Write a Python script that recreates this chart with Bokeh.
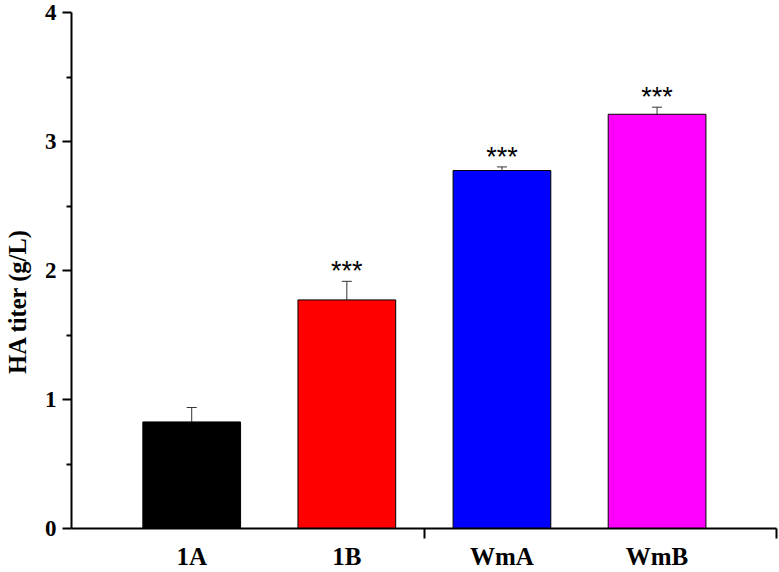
from bokeh.plotting import figure
from bokeh.models import ColumnDataSource, FixedTicker, Range1d, Whisker
from bokeh.core.properties import value
from bokeh.embed import file_html
from bokeh.resources import INLINE

categories = ["1A", "1B", "WmA", "WmB"]
positions = [1, 2, 3, 4]
titer = [0.826, 1.772, 2.775, 3.211]
errors = [0.112, 0.144, 0.028, 0.055]
stars = ["", "***", "***", "***"]
colors = ["#000000", "#FF0000", "#0000FF", "#FF00FF"]
y_ticks = [0, 1, 2, 3, 4]
y_minor = [0.5, 1.5, 2.5, 3.5]
x_minor = [2.5, 4.77]
y_title = "HA titer (g/L)"

src = ColumnDataSource(dict(
    x=positions, top=titer, color=colors,
    upper=[t + e for t, e in zip(titer, errors)],
    lower=[t - e for t, e in zip(titer, errors)],
    stars=stars,
))

p = figure(width=779, height=572, output_backend="svg", toolbar_location=None,
           x_range=Range1d(0.225, 4.77), y_range=Range1d(0, 4),
           min_border_left=70, min_border_right=3, min_border_top=12, min_border_bottom=43)
p.outline_line_color = None
p.xgrid.visible = False
p.ygrid.visible = False

p.vbar(x="x", top="top", width=0.63, bottom=0, source=src, fill_color="color",
       line_color="#000000", line_width=1)

w = Whisker(base="x", upper="upper", lower="lower", source=src, line_color="#333333",
            line_width=1)
w.upper_head.size = 10
w.lower_head.size = 10
w.upper_head.line_color = "#333333"
w.lower_head.line_color = "#333333"
p.add_layout(w)

p.text(x="x", y="upper", text="stars", source=src, text_align="center",
       text_baseline="middle", y_offset=-10, text_font=value("Liberation Sans"),
       text_font_size="27px", text_color="#000000")

# y axis
ya = p.yaxis[0]
ya.ticker = FixedTicker(ticks=y_ticks, minor_ticks=y_minor)
# non-breaking spaces after the title shift it below the frame centre, as in the original
ya.axis_label = y_title + "\u00a0" * 10
ya.axis_label_text_font = "Liberation Serif"
ya.axis_label_text_font_style = "bold"
ya.axis_label_text_font_size = "24.5px"
ya.axis_label_text_color = "#000000"
ya.axis_label_standoff = 11
ya.major_label_text_font = "Liberation Serif"
ya.major_label_text_font_style = "bold"
ya.major_label_text_font_size = "23px"
ya.major_label_text_color = "#000000"
ya.major_label_standoff = 6
ya.major_tick_out = 9
ya.major_tick_in = 0
ya.minor_tick_out = 5
ya.minor_tick_in = 0
ya.axis_line_width = 2
ya.major_tick_line_width = 2
ya.minor_tick_line_width = 2

# x axis
xa = p.xaxis[0]
xa.ticker = FixedTicker(ticks=positions, minor_ticks=x_minor)
xa.major_label_overrides = {pos: c for pos, c in zip(positions, categories)}
xa.major_label_text_font = "Liberation Serif"
xa.major_label_text_font_style = "bold"
xa.major_label_text_font_size = "25px"
xa.major_label_text_color = "#000000"
xa.major_label_standoff = 4
xa.major_tick_out = 0
xa.major_tick_in = 0
xa.major_tick_line_color = None
xa.minor_tick_out = 10
xa.minor_tick_in = 0
xa.minor_tick_line_width = 2
xa.axis_line_width = 2

open("out.html", "w").write(file_html(p, INLINE))
